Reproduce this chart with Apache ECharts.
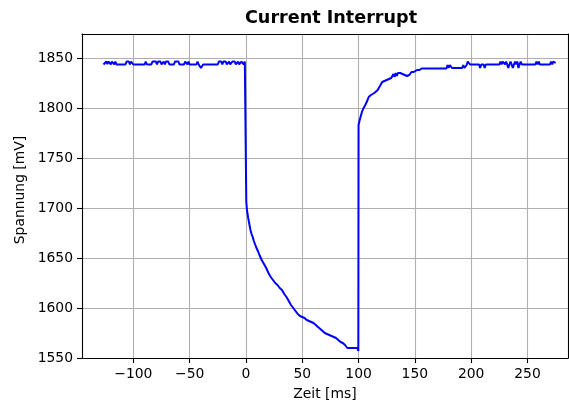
<!DOCTYPE html>
<html>
<head>
<meta charset="utf-8">
<script src="https://cdn.jsdelivr.net/npm/echarts@6/dist/echarts.min.js"></script>
<style>
html,body{margin:0;padding:0;background:#fff;}
#chart{width:569px;height:403px;}
</style>
</head>
<body>
<div id="chart"></div>
<script>
// ---- data ----
const titleText = 'Current Interrupt';
const xLabel = 'Zeit [ms]';
const yLabel = 'Spannung [mV]';
const xTicks = [-100, -50, 0, 50, 100, 150, 200, 250];
const yTicks = [1550, 1600, 1650, 1700, 1750, 1800, 1850];

// before interrupt
const timePre = [-126.5,-125,-124,-123,-122,-121,-120,-119,-118,-117,-116,-115,-107,-106,-104,-103,-102,-101,-100,-90,-89,-88,-84,-83,-80,-79,-78,-76,-75,-73,-72,-71,-69,-68,-64,-63,-60,-59,-55,-54,-53,-52,-51,-50,-44,-43,-42,-40,-38,-25,-24,-22,-21,-20,-18,-17,-15,-14,-12,-10,-9,-7,-6,-4,-3,-2,-1,0];
const voltPre = [1843.5,1843.5,1846.5,1844,1846.5,1846.5,1843.5,1846.5,1846.5,1843.5,1846.5,1843.5,1843.5,1846.5,1846.5,1843.5,1846.5,1846.5,1843.5,1843.5,1846.5,1843.5,1843.5,1846.5,1846.5,1843.5,1846.5,1846.5,1843.5,1846.5,1843.5,1846.5,1846.5,1843.5,1843.5,1846.5,1846.5,1843.5,1843.5,1846.5,1846.5,1843.5,1846.5,1843.5,1843.5,1846.5,1843.5,1840,1843.5,1843.5,1846.5,1846.5,1843.5,1846.5,1846.5,1843.5,1846.5,1843.5,1846.5,1846.5,1843.5,1846.5,1843.5,1846.5,1846.5,1843.5,1846.5,1846.5];

// during interrupt (decay)
const timeDecay = [0.3,1,2,3,4,5,6,7,8,9,10,11,12,13,14,15,16,17,18,19,20,21,22,23,24,25,26,28,30,32,34,36,38,40,42,44,46,48,50,52,54,56,58,60,62,64,66,68,70,72,74,76,78,80,82,84,86,88,90,92,95,99,99.8];
const voltDecay = [1706,1697,1690,1684,1678,1674,1671,1667,1664,1661,1659,1656,1653,1651,1648,1646,1644,1642,1640,1638,1635,1633,1631,1630,1628,1626,1625,1623,1620,1618,1614,1611,1607,1603,1600,1597,1594,1592,1591,1590,1588,1587,1586,1585,1583,1581,1579,1577,1575,1574,1573,1572,1571,1570,1568,1566,1565,1563,1560,1560,1560,1560,1557];

// after interrupt (recovery)
const timeRec = [100,101,102,103,104,105,106,107,108,109,110,111,112,114,115,117,118,119,120,121,123,125,127,128,129,130,131,132,133,134,135,136,137,138,139,140,141,143,145,147,148,149,150,152,153,154,156,178,179,180,181,182,183,192,193,194,196,197,198,199,207,208,209,211,212,213,225,226,227,228,229,230,231,232,233,234,235,236,237,238,239,240,241,242,243,244,245,257,258,259,260,261,270,271,272,273,274,275];
const voltRec = [1783,1788,1792,1796,1799,1801,1803,1805,1808,1811,1812,1813,1815,1815,1817,1818,1818,1822,1824,1826,1827,1828,1829,1831,1830,1832,1834,1831,1835,1832,1835,1833,1835,1835,1834,1833,1833,1832,1833,1836,1837,1836,1835,1838,1840,1838,1839.5,1839.5,1843,1840,1843,1843,1840,1840,1843,1840,1843,1846.5,1846.5,1843.5,1843.5,1840,1843.5,1843.5,1840,1843.5,1843.5,1846.5,1843.5,1846.5,1846.5,1843.5,1846.5,1843.5,1840,1843.5,1846.5,1843.5,1840,1843.5,1846.5,1843.5,1846.5,1840,1843.5,1846.5,1843.5,1843.5,1846.5,1843.5,1846.5,1843.5,1843.5,1846.5,1843.5,1846.5,1846.5,1845];

const time = timePre.concat(timeDecay, timeRec);
const voltage = voltPre.concat(voltDecay, voltRec);

// ---- chart ----
const FONT = 'DejaVu Sans';
const chart = echarts.init(document.getElementById('chart'), null, {renderer: 'canvas'});
const fmtMinus = v => String(v).replace('-', '\u2212');

chart.setOption({
  animation: false,
  backgroundColor: '#fff',
  grid: {left: 82, right: 1, top: 34, bottom: 45, containLabel: false},
  graphic: [
    {type: 'text', x: 331, y: 18, style: {text: titleText, font: 'bold 17.6px "DejaVu Sans"', fill: '#000', align: 'center', verticalAlign: 'middle'}},
    {type: 'text', x: 20, y: 190, rotation: Math.PI / 2, style: {text: yLabel, font: '13.9px "DejaVu Sans"', fill: '#000', align: 'center', verticalAlign: 'middle'}},
    {type: 'text', x: 325, y: 394, style: {text: xLabel, font: '13.9px "DejaVu Sans"', fill: '#000', align: 'center', verticalAlign: 'middle'}}
  ],
  xAxis: [{
    type: 'value', min: -145.6, max: 286, splitNumber: 8,
    axisLine: {show: true, onZero: false, lineStyle: {color: '#000', width: 1.1}},
    axisTick: {show: true, length: 5, lineStyle: {color: '#000', width: 1.1}, customValues: xTicks},
    axisLabel: {color: '#000', fontFamily: FONT, fontSize: 13.9, margin: 9, showMinLabel: false, showMaxLabel: false,
      formatter: v => (xTicks.indexOf(v) >= 0 ? fmtMinus(v) : '')},
    splitLine: {show: true, lineStyle: {color: '#b0b0b0', width: 1.1}}
  }, {
    type: 'value', position: 'top', min: -145.6, max: 286,
    axisLine: {show: true, onZero: false, lineStyle: {color: '#000', width: 1.1}},
    axisTick: {show: false}, axisLabel: {show: false}, splitLine: {show: false}
  }],
  yAxis: [{
    type: 'value', min: 1550, max: 1874, interval: 50,
    axisLine: {show: true, onZero: false, lineStyle: {color: '#000', width: 1.1}},
    axisTick: {show: true, length: 5, lineStyle: {color: '#000', width: 1.1}, customValues: yTicks},
    axisLabel: {color: '#000', fontFamily: FONT, fontSize: 13.9, margin: 9, showMaxLabel: false,
      formatter: v => (yTicks.indexOf(v) >= 0 ? String(v) : '')},
    splitLine: {show: true, lineStyle: {color: '#b0b0b0', width: 1.1}}
  }, {
    type: 'value', position: 'right', min: 1550, max: 1874,
    axisLine: {show: true, onZero: false, lineStyle: {color: '#000', width: 1.1}},
    axisTick: {show: false}, axisLabel: {show: false}, splitLine: {show: false}
  }],
  series: [{
    type: 'line',
    xAxisIndex: 0, yAxisIndex: 0,
    data: time.map((t, i) => [t, voltage[i]]),
    showSymbol: false,
    lineStyle: {color: '#0000ff', width: 2},
    itemStyle: {color: '#0000ff'}
  }]
});
</script>
</body>
</html>
